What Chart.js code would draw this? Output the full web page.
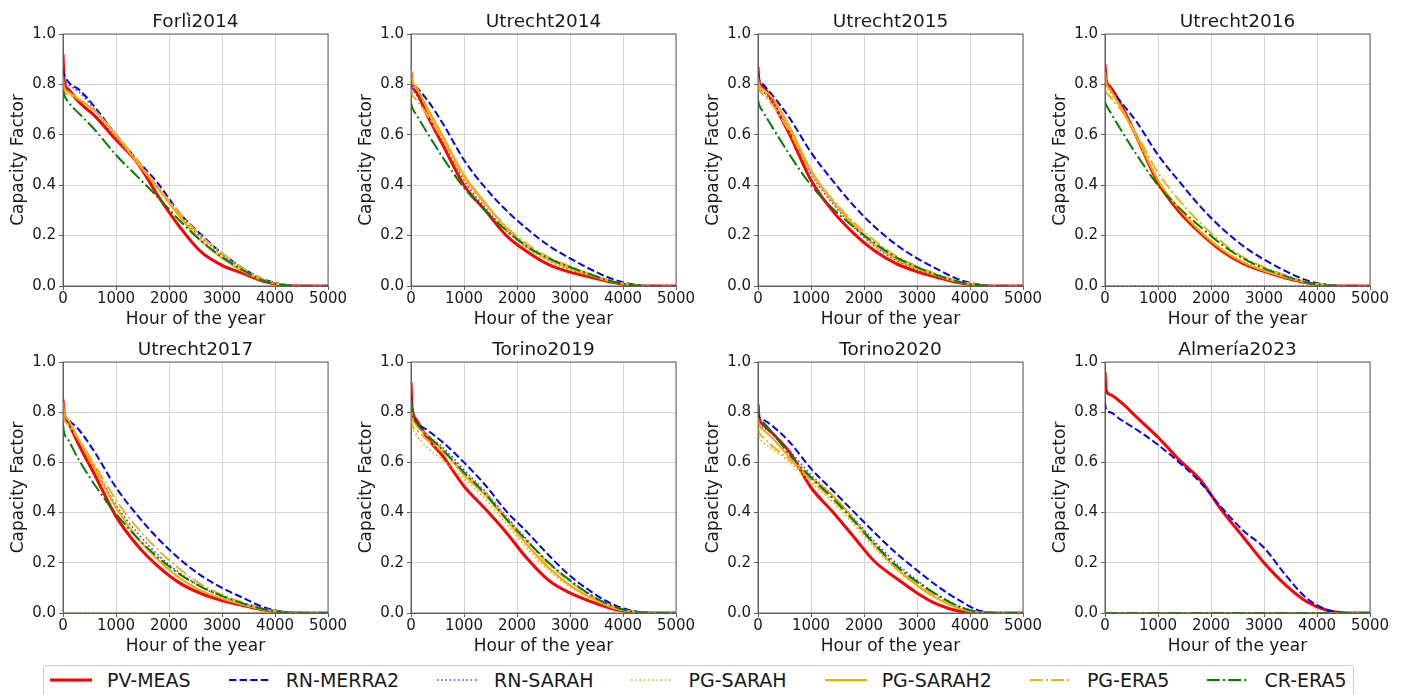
<!DOCTYPE html>
<html>
<head>
<meta charset="utf-8">
<title>Capacity factor duration curves</title>
<script src="https://cdn.jsdelivr.net/npm/chart.js@4.4.1/dist/chart.umd.min.js"></script>
<style>
  html, body { margin: 0; padding: 0; background: #fff; }
  body { width: 1406px; height: 695px; position: relative; overflow: hidden; font-family: 'DejaVu Sans', sans-serif; }
  #legend {
    position: absolute; left: 43px; top: 665px;
    display: flex; align-items: center;
    border: 1px solid #cccccc; border-radius: 4px;
    padding: 3px 6px 6px 6px; background: #fff;
    font-size: 19px; line-height: 22.8px; color: #1a1a1a; white-space: nowrap;
  }
  #legend .item { display: flex; align-items: center; margin-right: 38px; }
  #legend .item:last-child { margin-right: 0; }
  #legend svg { margin-right: 15px; }
</style>
</head>
<body>
<div id="legend"></div>
<script>
// hours of the year at which the sorted capacity factors are sampled
const HOURS = [0, 20, 100, 300, 600, 1000, 1400, 1800, 2200, 2600, 3000, 3400, 3800, 4200, 4600, 5000];
const X_TICKS = [0, 1000, 2000, 3000, 4000, 5000];
const Y_TICKS = [0, 0.2, 0.4, 0.6, 0.8, 1.0];

const SERIES = ['PV-MEAS', 'RN-MERRA2', 'RN-SARAH', 'PG-SARAH', 'PG-SARAH2', 'PG-ERA5', 'CR-ERA5'];
const SITES = ['Forlì2014', 'Utrecht2014', 'Utrecht2015', 'Utrecht2016',
               'Utrecht2017', 'Torino2019', 'Torino2020', 'Almería2023'];

// one row per entry of SERIES
const FORLI_2014 = [
  [0.92, 0.82, 0.78, 0.73, 0.675, 0.58, 0.49, 0.355, 0.235, 0.136, 0.082, 0.05, 0.018, 0.003, 0, 0],
  [0.86, 0.84, 0.81, 0.78, 0.71, 0.60, 0.50, 0.405, 0.29, 0.205, 0.13, 0.07, 0.025, 0.005, 0, 0],
  [0.84, 0.82, 0.80, 0.77, 0.70, 0.59, 0.49, 0.39, 0.28, 0.195, 0.125, 0.068, 0.024, 0.004, 0, 0],
  [0.81, 0.79, 0.77, 0.745, 0.695, 0.59, 0.49, 0.385, 0.28, 0.19, 0.12, 0.065, 0.022, 0.004, 0, 0],
  [0.83, 0.79, 0.77, 0.74, 0.695, 0.60, 0.49, 0.385, 0.275, 0.18, 0.11, 0.058, 0.02, 0.003, 0, 0],
  [0.80, 0.77, 0.76, 0.74, 0.695, 0.60, 0.50, 0.39, 0.29, 0.20, 0.13, 0.07, 0.025, 0.004, 0, 0],
  [0.78, 0.76, 0.73, 0.685, 0.62, 0.52, 0.435, 0.35, 0.26, 0.18, 0.115, 0.062, 0.02, 0.003, 0, 0]
];
const UTRECHT_2014 = [
  [0.85, 0.80, 0.77, 0.68, 0.56, 0.40, 0.30, 0.20, 0.135, 0.085, 0.055, 0.035, 0.015, 0.002, 0, 0],
  [0.83, 0.81, 0.79, 0.74, 0.645, 0.50, 0.39, 0.30, 0.225, 0.16, 0.11, 0.065, 0.028, 0.006, 0, 0],
  [0.82, 0.79, 0.76, 0.69, 0.575, 0.42, 0.31, 0.22, 0.15, 0.10, 0.066, 0.04, 0.016, 0.003, 0, 0],
  [0.84, 0.80, 0.78, 0.70, 0.585, 0.43, 0.32, 0.225, 0.15, 0.10, 0.066, 0.04, 0.016, 0.003, 0, 0],
  [0.86, 0.82, 0.79, 0.71, 0.595, 0.44, 0.33, 0.23, 0.155, 0.105, 0.07, 0.042, 0.017, 0.003, 0, 0],
  [0.78, 0.76, 0.74, 0.68, 0.58, 0.43, 0.325, 0.235, 0.165, 0.115, 0.078, 0.047, 0.02, 0.003, 0, 0],
  [0.73, 0.71, 0.68, 0.61, 0.51, 0.39, 0.30, 0.22, 0.155, 0.11, 0.075, 0.045, 0.018, 0.003, 0, 0]
];
const UTRECHT_2015 = [
  [0.87, 0.81, 0.79, 0.72, 0.60, 0.42, 0.30, 0.21, 0.14, 0.09, 0.057, 0.033, 0.013, 0.002, 0, 0],
  [0.84, 0.82, 0.80, 0.75, 0.665, 0.53, 0.42, 0.32, 0.235, 0.165, 0.11, 0.065, 0.025, 0.005, 0, 0],
  [0.81, 0.79, 0.77, 0.72, 0.615, 0.445, 0.33, 0.235, 0.158, 0.103, 0.065, 0.037, 0.014, 0.003, 0, 0],
  [0.82, 0.79, 0.77, 0.72, 0.62, 0.45, 0.335, 0.24, 0.16, 0.105, 0.067, 0.038, 0.015, 0.003, 0, 0],
  [0.83, 0.80, 0.78, 0.74, 0.63, 0.46, 0.34, 0.245, 0.165, 0.11, 0.07, 0.04, 0.015, 0.003, 0, 0],
  [0.80, 0.78, 0.76, 0.71, 0.61, 0.45, 0.345, 0.255, 0.18, 0.12, 0.078, 0.045, 0.018, 0.003, 0, 0],
  [0.74, 0.72, 0.69, 0.62, 0.52, 0.40, 0.31, 0.235, 0.17, 0.115, 0.075, 0.042, 0.016, 0.003, 0, 0]
];
const UTRECHT_2016 = [
  [0.88, 0.82, 0.79, 0.72, 0.59, 0.41, 0.295, 0.21, 0.14, 0.09, 0.058, 0.033, 0.013, 0.002, 0, 0],
  [0.82, 0.80, 0.78, 0.73, 0.65, 0.52, 0.415, 0.315, 0.23, 0.16, 0.105, 0.06, 0.023, 0.004, 0, 0],
  [0, 0, 0, 0, 0, 0, 0, 0, 0, 0, 0, 0, 0, 0, 0, 0],
  [0.83, 0.80, 0.77, 0.70, 0.585, 0.42, 0.31, 0.22, 0.15, 0.10, 0.064, 0.037, 0.015, 0.002, 0, 0],
  [0.85, 0.81, 0.78, 0.71, 0.59, 0.42, 0.305, 0.215, 0.145, 0.095, 0.06, 0.035, 0.014, 0.002, 0, 0],
  [0.78, 0.77, 0.75, 0.70, 0.60, 0.45, 0.34, 0.25, 0.175, 0.115, 0.075, 0.043, 0.017, 0.003, 0, 0],
  [0.73, 0.72, 0.69, 0.62, 0.52, 0.40, 0.31, 0.235, 0.165, 0.11, 0.07, 0.04, 0.015, 0.002, 0, 0]
];
const UTRECHT_2017 = [
  [0.85, 0.80, 0.76, 0.67, 0.55, 0.385, 0.27, 0.185, 0.12, 0.078, 0.05, 0.03, 0.012, 0.002, 0, 0],
  [0.80, 0.79, 0.77, 0.73, 0.64, 0.50, 0.39, 0.295, 0.215, 0.15, 0.10, 0.06, 0.022, 0.004, 0, 0],
  [0.82, 0.79, 0.76, 0.69, 0.58, 0.43, 0.32, 0.23, 0.16, 0.105, 0.066, 0.038, 0.015, 0.002, 0, 0],
  [0, 0, 0, 0, 0, 0, 0, 0, 0, 0, 0, 0, 0, 0, 0, 0],
  [0.84, 0.80, 0.77, 0.69, 0.575, 0.42, 0.30, 0.21, 0.14, 0.09, 0.058, 0.033, 0.013, 0.002, 0, 0],
  [0.79, 0.77, 0.75, 0.69, 0.59, 0.45, 0.34, 0.25, 0.175, 0.115, 0.073, 0.042, 0.016, 0.003, 0, 0],
  [0.75, 0.72, 0.69, 0.61, 0.51, 0.395, 0.30, 0.22, 0.155, 0.105, 0.068, 0.038, 0.015, 0.002, 0, 0]
];
const TORINO_2019 = [
  [0.92, 0.82, 0.77, 0.70, 0.625, 0.505, 0.415, 0.32, 0.215, 0.13, 0.08, 0.045, 0.017, 0.003, 0, 0],
  [0.86, 0.80, 0.76, 0.73, 0.68, 0.60, 0.51, 0.405, 0.32, 0.23, 0.148, 0.085, 0.035, 0.008, 0, 0],
  [0.84, 0.79, 0.75, 0.71, 0.66, 0.57, 0.485, 0.385, 0.29, 0.20, 0.13, 0.072, 0.028, 0.006, 0, 0],
  [0.76, 0.74, 0.71, 0.66, 0.61, 0.535, 0.455, 0.355, 0.255, 0.17, 0.105, 0.057, 0.02, 0.004, 0, 0],
  [0.84, 0.79, 0.75, 0.71, 0.65, 0.55, 0.47, 0.37, 0.27, 0.18, 0.11, 0.06, 0.022, 0.004, 0, 0],
  [0.78, 0.75, 0.73, 0.69, 0.64, 0.56, 0.48, 0.38, 0.285, 0.195, 0.125, 0.068, 0.026, 0.005, 0, 0],
  [0.85, 0.80, 0.76, 0.71, 0.65, 0.56, 0.475, 0.375, 0.285, 0.20, 0.13, 0.07, 0.028, 0.005, 0, 0]
];
const TORINO_2020 = [
  [0.83, 0.78, 0.75, 0.71, 0.64, 0.50, 0.405, 0.305, 0.205, 0.14, 0.08, 0.033, 0.007, 0, 0, 0],
  [0.80, 0.78, 0.77, 0.74, 0.68, 0.575, 0.49, 0.405, 0.32, 0.24, 0.17, 0.105, 0.05, 0.008, 0, 0],
  [0.79, 0.76, 0.74, 0.71, 0.645, 0.55, 0.47, 0.38, 0.285, 0.20, 0.13, 0.07, 0.027, 0.004, 0, 0],
  [0.72, 0.70, 0.68, 0.65, 0.60, 0.52, 0.445, 0.355, 0.26, 0.175, 0.11, 0.057, 0.02, 0.002, 0, 0],
  [0.78, 0.75, 0.73, 0.69, 0.62, 0.54, 0.47, 0.375, 0.27, 0.18, 0.11, 0.055, 0.018, 0.002, 0, 0],
  [0.74, 0.72, 0.70, 0.66, 0.61, 0.53, 0.455, 0.365, 0.27, 0.185, 0.12, 0.062, 0.022, 0.003, 0, 0],
  [0.84, 0.79, 0.76, 0.71, 0.63, 0.54, 0.46, 0.37, 0.275, 0.19, 0.125, 0.07, 0.025, 0.003, 0, 0]
];
const ALMERIA_2023 = [
  [0.96, 0.89, 0.87, 0.84, 0.78, 0.70, 0.61, 0.53, 0.41, 0.305, 0.20, 0.113, 0.046, 0.01, 0, 0],
  [0.84, 0.81, 0.80, 0.77, 0.73, 0.67, 0.60, 0.52, 0.42, 0.33, 0.26, 0.153, 0.06, 0.012, 0, 0],
  [0, 0, 0, 0, 0, 0, 0, 0, 0, 0, 0, 0, 0, 0, 0, 0],
  [0, 0, 0, 0, 0, 0, 0, 0, 0, 0, 0, 0, 0, 0, 0, 0],
  [0, 0, 0, 0, 0, 0, 0, 0, 0, 0, 0, 0, 0, 0, 0, 0],
  [0, 0, 0, 0, 0, 0, 0, 0, 0, 0, 0, 0, 0, 0, 0, 0],
  [0, 0, 0, 0, 0, 0, 0, 0, 0, 0, 0, 0, 0, 0, 0, 0]
];

const PANELS = [FORLI_2014, UTRECHT_2014, UTRECHT_2015, UTRECHT_2016,
                UTRECHT_2017, TORINO_2019, TORINO_2020, ALMERIA_2023];

// line styles, same order as SERIES (matplotlib-like dash patterns)
const STYLES = [
  { color: '#ff0000', width: 3,   dash: [] },
  { color: '#0000ff', width: 2,   dash: [7.4, 3.2] },
  { color: '#4a40e6', width: 1.6, dash: [1.6, 2.6] },
  { color: '#ffa500', width: 1.6, dash: [1.6, 2.6] },
  { color: '#ffa500', width: 2,   dash: [] },
  { color: '#f2b01e', width: 2,   dash: [12.8, 3.2, 2, 3.2] },
  { color: '#008000', width: 2,   dash: [12.8, 3.2, 2, 3.2] }
];

// grid geometry (plot area of every subplot)
const PLOT_LEFT = [63, 411, 758, 1105];
const PLOT_TOP = [34, 362];
const PLOT_H = [252, 251];
const PLOT_W = 265;
const Y_AXIS_W = 63, X_AXIS_H = 45, TITLE_H = 33, RIGHT_PAD = 22;

const TEXT = '#1a1a1a';
const SPINE = '#606060';
Chart.defaults.font.family = "'DejaVu Sans', sans-serif";
Chart.defaults.color = TEXT;

// matplotlib-style box around the axes
const frame = {
  id: 'frame',
  afterDatasetsDraw(chart) {
    const { ctx, chartArea: a } = chart;
    ctx.save();
    ctx.strokeStyle = SPINE;
    ctx.lineWidth = 1;
    ctx.strokeRect(a.left, a.top, a.width, a.height);
    ctx.restore();
  }
};

SITES.forEach((site, p) => {
  const col = p % 4, row = Math.floor(p / 4);
  const w = Y_AXIS_W + PLOT_W + RIGHT_PAD;
  const h = TITLE_H + PLOT_H[row] + X_AXIS_H;
  const canvas = document.createElement('canvas');
  canvas.width = w;
  canvas.height = h;
  canvas.style.cssText = `position:absolute;left:${PLOT_LEFT[col] - Y_AXIS_W}px;top:${PLOT_TOP[row] - TITLE_H}px;width:${w}px;height:${h}px`;
  document.body.appendChild(canvas);

  const datasets = SERIES.map((name, i) => ({
    label: name,
    data: HOURS.map((hr, k) => ({ x: hr, y: PANELS[p][i][k] })),
    borderColor: STYLES[i].color,
    borderWidth: STYLES[i].width,
    borderDash: STYLES[i].dash,
    pointRadius: 0,
    fill: false,
    cubicInterpolationMode: 'monotone',
    order: SERIES.length - i
  }));

  new Chart(canvas, {
    type: 'line',
    data: { datasets },
    options: {
      responsive: false,
      animation: false,
      devicePixelRatio: 1,
      layout: { padding: { right: RIGHT_PAD } },
      plugins: {
        legend: { display: false },
        tooltip: { enabled: false },
        title: {
          display: true,
          fullSize: false,
          text: site,
          color: TEXT,
          font: { size: 18.5, weight: 'normal', lineHeight: 1.2 },
          padding: { top: 10, bottom: 0.8 }
        }
      },
      scales: {
        x: {
          type: 'linear',
          min: 0,
          max: 5000,
          afterBuildTicks: s => { s.ticks = X_TICKS.map(v => ({ value: v })); },
          afterFit: s => { s.height = X_AXIS_H; },
          ticks: { font: { size: 15 }, color: TEXT, padding: 0, maxRotation: 0, autoSkip: false, callback: v => String(v) },
          grid: { color: '#d4d4d4', lineWidth: 1, tickLength: 4, tickColor: SPINE },
          border: { color: SPINE, width: 1 },
          title: { display: true, text: 'Hour of the year', color: TEXT, font: { size: 17 }, padding: { top: 0, bottom: 1 } }
        },
        y: {
          min: 0,
          max: 1,
          afterBuildTicks: s => { s.ticks = Y_TICKS.map(v => ({ value: v })); },
          afterFit: s => { s.width = Y_AXIS_W; },
          ticks: { font: { size: 15 }, color: TEXT, padding: 3, callback: v => v.toFixed(1) },
          grid: { color: '#d4d4d4', lineWidth: 1, tickLength: 4, tickColor: SPINE },
          border: { color: SPINE, width: 1 },
          title: { display: true, text: 'Capacity Factor', color: TEXT, font: { size: 17 }, padding: { top: 8.8, bottom: 0 } }
        }
      }
    },
    plugins: [frame]
  });
});

// shared legend under the grid
const legend = document.getElementById('legend');
SERIES.forEach((name, i) => {
  const st = STYLES[i];
  const item = document.createElement('div');
  item.className = 'item';
  item.innerHTML =
    `<svg width="42" height="14"><line x1="0" y1="7" x2="42" y2="7" stroke="${st.color}" ` +
    `stroke-width="${st.width}" stroke-dasharray="${st.dash.length ? st.dash.join(' ') : 'none'}"/></svg>` +
    `<span>${name}</span>`;
  legend.appendChild(item);
});
</script>
</body>
</html>
